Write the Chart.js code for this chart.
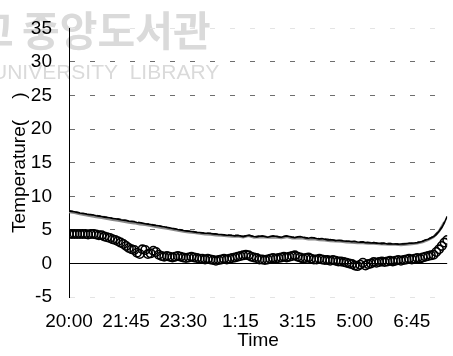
<!DOCTYPE html>
<html>
<head>
<meta charset="utf-8">
<script src="https://cdn.jsdelivr.net/npm/chart.js@4/dist/chart.umd.min.js"></script>
<style>
  html, body { margin: 0; padding: 0; background: #fff; }
  #wrap { width: 453px; height: 356px; position: relative; }
</style>
</head>
<body>
<div id="wrap"><canvas id="c"></canvas></div>
<script>
// x-axis tick positions (minutes after 20:00) and their labels
const tickMinutes = [0, 105, 210, 315, 420, 525, 630];
const tickLabels = ['20:00', '21:45', '23:30', '1:15', '3:15', '5:00', '6:45'];
const yTicks = [35, 30, 25, 20, 15, 10, 5, 0, -5];

// surface temperature, sampled every 5 minutes (open circles)
const surfaceTemp = [
  4.4,4.4,4.4,4.4,4.4,4.4,4.4,4.3,4.4,4.4,4.3,
  4.2,4.2,4.0,3.9,3.8,3.6,3.5,3.3,3.1,2.9,
  2.6,2.3,2.1,2.0,1.6,1.4,2.1,2.0,1.4,1.5,
  1.9,1.7,1.3,1.1,1.0,1.1,1.0,0.9,1.0,1.1,
  1.0,0.9,0.8,0.9,1.0,0.9,0.8,0.7,0.7,0.6,
  0.7,0.6,0.5,0.4,0.5,0.6,0.7,0.6,0.7,0.8,
  0.9,1.0,1.1,1.2,1.3,1.2,1.0,0.9,0.8,0.6,
  0.6,0.5,0.6,0.7,0.8,0.7,0.8,0.9,1.0,0.9,
  1.0,1.1,1.2,1.0,0.9,0.7,0.8,0.9,0.7,0.6,
  0.6,0.7,0.6,0.5,0.5,0.4,0.5,0.4,0.3,0.3,
  0.2,0.1,0.0,-0.1,-0.3,-0.4,-0.2,0.1,-0.3,-0.1,
  0.0,0.2,0.1,0.2,0.3,0.2,0.3,0.4,0.3,0.4,
  0.5,0.4,0.5,0.6,0.7,0.6,0.7,0.8,0.7,0.9,
  1.0,1.1,1.2,1.3,1.7,2.1,2.6,3.1,3.5
];

// air temperature, sampled every 5 minutes (black line)
const airTempA = [
  7.8,7.75,7.7,7.6,7.5,7.45,7.4,7.3,7.25,7.2,7.1,
  7.05,7.0,6.9,6.85,6.8,6.7,6.65,6.6,6.5,6.45,
  6.4,6.3,6.25,6.2,6.1,6.05,6.0,5.9,5.85,5.8,
  5.7,5.65,5.6,5.5,5.45,5.35,5.3,5.2,5.15,5.05,
  5.0,4.9,4.85,4.8,4.75,4.7,4.6,4.6,4.55,4.5,
  4.5,4.45,4.4,4.4,4.3,4.3,4.25,4.2,4.2,4.15,
  4.1,4.15,4.1,4.0,4.1,4.2,4.1,4.0,3.95,4.05,
  4.1,4.0,3.9,4.0,4.1,4.05,3.95,3.9,4.0,4.1,
  4.0,3.9,3.85,3.95,4.0,3.9,3.8,3.75,3.85,3.8,
  3.7,3.65,3.7,3.6,3.5,3.55,3.5,3.4,3.45,3.4,
  3.35,3.3,3.3,3.25,3.3,3.2,3.15,3.2,3.1,3.1,
  3.05,3.1,3.0,3.0,2.95,3.0,2.9,2.95,2.9,2.9,
  2.85,2.9,2.9,2.95,3.0,3.0,3.05,3.1,3.2,3.3,
  3.5,3.6,3.8,4.0,4.3,4.8,5.3,6.1,7.0
];

// air temperature, sampled every 10 minutes (grey line)
const airTempB = [
  7.65,7.55,7.35,7.2,7.05,6.9,6.8,6.65,6.5,6.4,
  6.25,6.1,6.0,5.85,5.75,5.6,5.45,5.3,5.2,5.05,
  4.9,4.75,4.65,4.55,4.45,4.35,4.3,4.2,4.15,4.1,
  4.0,4.05,3.9,4.1,3.85,3.95,3.9,3.85,3.9,3.8,
  3.95,3.75,3.8,3.75,3.6,3.65,3.5,3.45,3.35,3.3,
  3.25,3.15,3.1,3.05,3.05,2.95,2.95,2.9,2.85,2.8,
  2.8,2.75,2.8,2.9,3.0,3.2,3.5,3.95,4.8,6.2
];

// air temperature, sampled every 10 minutes (dashed line)
const airTempC = [
  7.85,7.7,7.55,7.4,7.3,7.15,7.05,6.9,6.75,6.65,
  6.5,6.35,6.25,6.1,5.95,5.85,5.7,5.55,5.4,5.25,
  5.1,4.95,4.85,4.75,4.6,4.55,4.5,4.35,4.3,4.25,
  4.2,4.2,4.05,4.25,4.0,4.1,4.05,4.05,4.1,3.95,
  4.15,3.95,4.0,3.95,3.8,3.85,3.7,3.65,3.6,3.45,
  3.45,3.35,3.3,3.25,3.25,3.15,3.15,3.05,3.05,3.0,
  2.95,2.95,3.0,3.05,3.15,3.35,3.65,4.05,4.85,6.1
];

const toPoints5 = arr => arr.map((v, i) => ({ x: i * 5, y: v }));
const toPoints10 = arr => arr.map((v, i) => ({ x: i * 10, y: v }));

const FONT = '"Liberation Sans", Arial, sans-serif';

// solid zero line plus faint library stamp behind the plot
const decor = {
  id: 'decor',
  beforeDraw(chart) {
    const ctx = chart.ctx;
    ctx.save();
    ctx.fillStyle = '#dadada';
    ctx.textBaseline = 'alphabetic';
    ctx.textAlign = 'left';
    ctx.font = 'bold 41px "Noto Sans CJK KR"';
    ctx.fillText('고', -24, 46);
    ctx.fillText('중앙도서관', 22, 46);
    ctx.font = '21px ' + FONT;
    ctx.fillText('UNIVERSITY  LIBRARY', -8, 79);
    ctx.restore();
  },
  afterDatasetsDraw(chart) {
    const { ctx, chartArea, scales } = chart;
    const y0 = Math.round(scales.y.getPixelForValue(0)) + 0.5;
    ctx.save();
    ctx.strokeStyle = '#000';
    ctx.lineWidth = 1;
    ctx.beginPath();
    ctx.moveTo(chartArea.left, y0);
    ctx.lineTo(chartArea.right, y0);
    ctx.stroke();
    ctx.restore();
  }
};

new Chart(document.getElementById('c'), {
  type: 'scatter',
  data: {
    datasets: [
      {
        label: 'Surface',
        data: toPoints5(surfaceTemp),
        showLine: false,
        pointStyle: 'circle',
        pointRadius: 4.2,
        pointBorderWidth: 1.6,
        pointBorderColor: '#000',
        pointBackgroundColor: 'rgba(0,0,0,0)'
      },
      {
        label: 'Air A',
        data: toPoints5(airTempA),
        showLine: true,
        borderColor: '#000',
        borderWidth: 1.6,
        pointRadius: 0,
        tension: 0
      },
      {
        label: 'Air C',
        data: toPoints10(airTempC),
        showLine: true,
        borderColor: '#222',
        borderWidth: 1.2,
        borderDash: [4, 3],
        pointRadius: 0,
        tension: 0
      },
      {
        label: 'Air B',
        data: toPoints10(airTempB),
        showLine: true,
        borderColor: '#8a8a8a',
        borderWidth: 2.5,
        pointRadius: 0,
        tension: 0
      }
    ]
  },
  options: {
    responsive: true,
    maintainAspectRatio: false,
    animation: false,
    events: [],
    layout: { padding: { left: 0, right: 0, top: 17, bottom: 0 } },
    plugins: { legend: { display: false }, tooltip: { enabled: false } },
    scales: {
      x: {
        type: 'linear',
        min: 0,
        max: 695,
        afterBuildTicks: s => { s.ticks = tickMinutes.map(v => ({ value: v })); },
        afterFit: s => { s.height = 59; },
        grid: { display: false, drawTicks: false },
        border: { display: false },
        ticks: {
          autoSkip: false,
          maxRotation: 0,
          padding: 13,
          color: '#000',
          font: { family: FONT, size: 19 },
          callback: (v, i) => tickLabels[i]
        },
        title: {
          display: true,
          text: 'Time',
          color: '#000',
          padding: { top: 0, bottom: 4 },
          font: { family: FONT, size: 19 }
        }
      },
      y: {
        min: -5,
        max: 35,
        afterBuildTicks: s => { s.ticks = yTicks.map(v => ({ value: v })); },
        afterFit: s => { s.width = 69; },
        grid: {
          drawTicks: false,
          color: c => {
            const v = c.tick ? c.tick.value : null;
            if (v === 0) return 'rgba(0,0,0,0)';
            if (v === 35 || v === -5) return '#e4e4e4';
            return '#6e6e6e';
          },
          lineWidth: 1
        },
        border: { display: true, color: '#000', width: 1, dash: [5, 15] },
        ticks: {
          padding: 17,
          color: '#000',
          font: { family: FONT, size: 19 }
        },
        title: {
          display: true,
          text: 'Temperature(    )',
          color: '#000',
          padding: { top: 8, bottom: 0 },
          font: { family: FONT, size: 19 }
        }
      }
    }
  },
  plugins: [decor]
});
</script>
</body>
</html>
